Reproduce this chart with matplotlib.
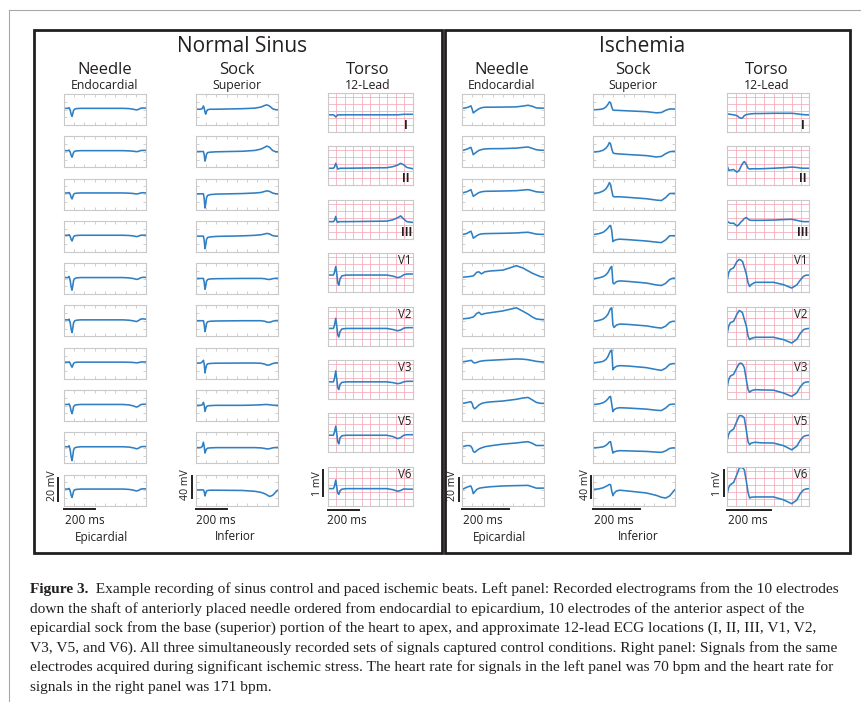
import numpy as np
import matplotlib
matplotlib.use("Agg")
import matplotlib.pyplot as plt
from matplotlib.patches import Rectangle
from matplotlib.lines import Line2D
from matplotlib.transforms import blended_transform_factory

plt.rcParams['font.family'] = ['Open Sans', 'DejaVu Sans']

W, H = 862, 702
TRACE = '#2f7fc2'
FRAME = '#c9c9c9'
GRID = '#f3a9b6'
INK = '#231f20'

# time grids in ms, amplitudes in mV
# ---- normal sinus ----
NORM_NEEDLE_T = [0, 28, 33, 40, 46, 52, 57, 62, 68, 80, 110, 380, 420, 450, 468, 482, 495, 510, 530]
NORM_NEEDLE = [
    [0, 0, 0.6, -1.5, -5, -7, -4.5, -1.8, -0.7, -0.2, 0, 0, -0.2, -0.8, -1.4, -0.9, 0.1, 0.3, 0.2],
    [0, 0, 0.5, -1.2, -4, -5.7, -3.6, -1.5, -0.6, -0.2, 0, 0, -0.2, -0.5, -0.9, -0.6, 0.1, 0.2, 0.2],
    [0, 0, 0.4, -1.1, -3.7, -5.2, -3.3, -1.3, -0.5, -0.2, 0, 0, -0.2, -0.5, -0.9, -0.6, 0.0, 0.2, 0.1],
    [0, 0, 0.5, -1.0, -3.5, -5.0, -3.2, -1.3, -0.5, -0.2, 0, 0, -0.2, -0.6, -1.2, -0.8, 0.0, 0.1, 0.1],
    [0, 0, 0.9, -2.5, -8, -11, -7, -2.5, -1.0, -0.3, 0, 0, -0.3, -0.9, -1.6, -1.2, -0.2, 0.2, 0.2],
    [0, 0, 0.6, -2.5, -8, -11, -7, -2.5, -1.0, -0.3, 0, 0, -0.3, -0.9, -1.5, -0.6, 0.6, 0.9, 0.5],
    [0, 0, 0.3, -1.0, -3.0, -4.4, -2.8, -1.1, -0.4, -0.1, 0, 0, -0.1, -0.3, -0.6, -0.4, 0.1, 0.2, 0.2],
    [0, 0, 0.5, -1.8, -5.8, -8, -5.2, -1.9, -0.8, -0.3, 0, 0, -0.4, -1.3, -2.3, -1.6, -0.2, 0.2, 0.2],
    [0, 0, 0.9, -2.7, -8.7, -12, -7.7, -2.7, -1.1, -0.4, 0, 0, -0.3, -1.0, -1.8, -1.3, -0.1, 0.2, 0.2],
    [0, 0, 0.6, -1.6, -5.3, -7.3, -4.7, -1.8, -0.7, -0.3, 0, 0, -0.3, -1.0, -1.7, -1.2, -0.1, 0.2, 0.2],
]
NORM_SOCK_T = [0, 30, 40, 48, 53, 58, 63, 68, 75, 90, 130, 300, 380, 420, 445, 458, 475, 495, 515, 530]
NORM_SOCK = [
    [0, 0, 1, 6, 2, -5, -9, -4, -1, 0, 0, 1, 2, 4, 7, 8, 6, 1, -1, -1],
    [0, 0, 0, 0, -6, -17.6, -12, -5, -2, -1.2, -0.5, 0.5, 2, 4.5, 8, 10, 8, 2, -0.5, -0.5],
    [0, 0, 0, 0, -9, -26, -18, -7, -3, -1.5, -0.5, 0.5, 1.5, 2.5, 4.5, 5.5, 4.5, 1.5, 0, 0],
    [0, 0, 0, 0, -8, -23, -16, -6, -2.5, -1.5, -0.5, 0.5, 1.5, 2.5, 4, 5, 4, 1, 0, 0],
    [0, 0, 0, 0, -7, -20, -14, -5, -2, -1, -0.5, 0, 0, 0, -0.5, -1.5, -2, -0.5, 0.3, 0.3],
    [0, 0, 0, 0, -7, -20, -14, -5, -2, -1, -0.5, 0, 0, 0, -1, -2.5, -3, -1, 0.3, 0.3],
    [0, 0, 2, 5, -2, -18, -10, -4, -1.5, -0.8, -0.3, 0, 0, -0.5, -2, -4, -3.5, -1, 0.3, 0.3],
    [0, 0, 1, 5.5, 0, -11, -6, -2.5, -1, -0.5, 0, 0, 0.5, 1, 1.5, 1.5, 1, 0.3, 0, 0],
    [0, 0, 2, 10, 2, -10, -6, -2.5, -1, -0.5, 0, 0, 0, -0.5, -1.5, -2.5, -2, -0.5, 0.3, 0.3],
    [0, 0, 0, 0, -3, -11, -6, -2, -1, -0.5, -0.5, -1, -2.5, -4.5, -7, -9, -12, -10, -4, 0],
]
NORM_TORSO_T = [0, 35, 42, 50, 57, 63, 70, 78, 90, 120, 380, 420, 450, 470, 490, 510, 550]
NORM_TORSO = [
    [0, 0, -0.03, -0.08, -0.04, 0, 0, 0, 0, 0, 0, 0, 0, 0.01, 0.02, 0.02, 0.02],
    [0, 0, 0.05, 0.19, 0.08, -0.03, -0.02, 0, 0, 0, 0.02, 0.06, 0.12, 0.19, 0.13, 0.03, -0.02],
    [0, 0, 0.05, 0.2, 0.02, -0.03, 0, 0, 0, 0, 0.02, 0.07, 0.15, 0.22, 0.1, 0.0, -0.03],
    [0, 0, 0.1, 0.33, 0.05, -0.3, -0.39, -0.15, -0.03, 0, 0, -0.04, -0.1, -0.07, 0.01, 0.04, 0.04],
    [0, 0, 0.12, 0.39, 0.08, -0.25, -0.33, -0.12, -0.02, 0, 0, -0.04, -0.09, -0.06, 0.01, 0.03, 0.03],
    [0, 0, 0.13, 0.42, 0.1, -0.22, -0.3, -0.1, -0.02, 0, 0, -0.03, -0.07, -0.05, 0.0, 0.02, 0.02],
    [0, 0, 0.12, 0.35, 0.05, -0.25, -0.33, -0.1, -0.02, 0, 0, -0.05, -0.13, -0.09, 0.0, 0.02, 0.02],
    [0, 0, 0.1, 0.33, 0.05, -0.17, -0.22, -0.08, -0.02, 0, 0, -0.04, -0.1, -0.07, -0.01, -0.02, -0.02],
]

# ---- ischemia ----
ISCH_NEEDLE_T = [0, 20, 33, 38, 44, 48, 54, 62, 72, 83, 97, 120, 175, 232, 260, 282, 300, 317, 335, 350]
ISCH_NEEDLE = [
    [-0.1, 0.6, 1.6, 2.2, -1, -4, -3, -1.8, -0.4, 0.5, 1.0, 1.0, 1.1, 1.3, 2.0, 2.7, 1.8, 0.4, 0.2, 0.15],
    [0, 1.2, 2.4, 2.9, -0.5, -3.5, -2.5, -1.2, 0.2, 0.9, 1.5, 1.7, 1.8, 2.2, 2.8, 3.2, 2.0, 0.8, 0.4, 0.3],
    [0, 1.0, 2.3, 2.9, -0.5, -2.9, -2.2, -1.0, 0.3, 1.0, 1.4, 1.5, 1.7, 2.0, 2.5, 2.9, 2.0, 1.0, 0.7, 0.6],
    [0.5, 1.5, 3.0, 3.5, 0.5, -2.5, -1.8, -0.5, 0.6, 1.2, 1.4, 1.5, 1.7, 2.0, 2.4, 2.6, 1.8, 1.0, 0.8, 0.8],
    [0.3, 0.6, 0.9, 1.1, 1.3, 1.5, 2.5, 4.5, 5.0, 3.2, 5.0, 5.7, 6.5, 10.3, 8.3, 5.8, 3.8, 2.3, 0.8, 0.3],
    [0.8, 1.2, 1.6, 2.0, 2.2, 2.5, 3.5, 5.5, 6.6, 4.6, 5.5, 6.2, 7.8, 10.5, 7.5, 5.0, 2.5, 0.8, 0.3, 0.2],
    [0.2, 0.8, 1.3, 1.6, 0.8, -0.3, -0.7, -0.3, 0.5, 1.0, 1.35, 1.6, 2.2, 2.8, 2.6, 2.1, 1.4, 0.7, 0.3, 0.2],
    [0.8, 1.6, 2.2, 2.4, 0.5, -2.5, -3.8, -2.5, -0.5, 0.8, 1.6, 2.2, 3.0, 4.5, 5.6, 6.1, 4.0, 1.8, 1.0, 0.9],
    [-0.1, 1.0, 1.0, 0.3, -1.5, -4, -4.9, -3.5, -2.0, -1.0, 0.0, 0.8, 2.3, 3.3, 4.0, 4.4, 3.0, 1.1, 1.1, 1.1],
    [-0.4, 1.5, 2.5, 2.6, -0.5, -4.0, -2.5, -0.5, 0.6, 1.1, 1.5, 2.0, 2.7, 3.0, 3.1, 3.2, 2.0, 0.8, 0.8, 0.8],
]
ISCH_SOCK_T = [0, 25, 43, 55, 64, 70, 75, 80, 85, 90, 100, 114, 150, 228, 270, 292, 310, 327, 340, 350]
ISCH_SOCK = [
    [-1.1, -0.5, 0.7, 4, 9, 13.5, 12, 4, -1.5, -2.0, -2.0, -2.3, -3, -4.5, -6.6, -6.0, -2.0, 0.5, 0.5, 0.3],
    [-0.8, 0, 2.3, 6, 11, 16.5, 14, 5, -2, -3.5, -4, -4.5, -5.5, -7.5, -10, -9, -4, -0.5, 0.4, 0.4],
    [0.8, 2.0, 5.1, 9, 15, 20.6, 17, 6, -4, -5.5, -5.5, -5.4, -6.5, -9, -11.5, -12.3, -7, 0.5, 0.8, 0.8],
    [2.7, 4.5, 7.0, 11, 15, 18.5, 19.7, 10, -10, -8, -6.5, -5.6, -6.5, -9, -11, -11.9, -7, 0.5, 0.8, 0.8],
    [-0.8, 1.0, 3.2, 6.5, 11, 16, 20, 21.9, -8, -10, -6, -4.5, -5.5, -8.5, -12, -13, -9, -2, 0.3, 0.4],
    [-1.1, 0.5, 3.0, 7, 12, 18, 22.5, 23.7, -8, -12.3, -8, -6.1, -6.8, -9.5, -12.5, -13.5, -10, -3, -1.1, -1.1],
    [0.1, 1.5, 3.0, 6.5, 12, 18, 22.5, 23.7, -12.3, -9, -6, -4.8, -5.5, -8.5, -12, -13.5, -9.5, -2.5, -1.1, -1.1],
    [1.5, 2.5, 4.7, 8, 12, 15.5, 16.4, 2, -11.5, -8, -5.5, -4.4, -5, -7, -9, -9.6, -5, 1.5, 2.1, 2.1],
    [-0.5, 0.3, 1.4, 4, 7.5, 10.5, 10.9, 0, -10, -8, -6.5, -5.6, -6, -7, -8.2, -8.7, -6, -1.5, -0.5, -0.5],
    [0.75, 2.0, 3.9, 6.5, 8.5, 10.2, 9.5, -2, -10.6, -6, -2, -0.5, -2, -5.6, -10, -13.5, -15, -11, -4.5, 0.75],
]
ISCH_TORSO_T = [0, 8, 15, 30, 45, 55, 62, 70, 78, 87, 95, 102, 110, 127, 150, 210, 255, 292, 315, 330, 345, 355, 370]
ISCH_TORSO = [
    [0.04, 0.03, 0.02, 0.0, -0.03, -0.1, -0.13, -0.12, -0.03, 0.01, 0.02, 0.03, 0.04, 0.05, 0.05, 0.06, 0.06, 0.06, 0.04, 0.02, 0.01, 0.0, 0.0],
    [0.11, -0.08, -0.07, -0.05, -0.15, -0.08, 0.05, 0.18, 0.26, 0.15, 0.0, -0.03, -0.02, -0.02, -0.02, 0.0, 0.02, 0.044, 0.03, 0.01, 0.0, 0.0, 0.0],
    [0.03, -0.03, -0.06, -0.06, -0.17, -0.1, -0.02, 0.04, 0.12, 0.16, 0.1, 0.06, 0.05, 0.05, 0.05, 0.06, 0.08, 0.09, 0.05, 0.02, 0.0, 0.0, 0.0],
    [-0.24, 0.1, 0.21, 0.28, 0.52, 0.6, 0.58, 0.52, 0.3, 0.05, -0.3, -0.44, -0.36, -0.28, -0.28, -0.28, -0.37, -0.5, -0.38, -0.2, -0.05, -0.01, 0.0],
    [-0.23, 0.1, 0.22, 0.28, 0.55, 0.69, 0.66, 0.6, 0.35, 0.1, -0.3, -0.43, -0.38, -0.34, -0.34, -0.34, -0.43, -0.56, -0.42, -0.2, -0.05, -0.015, 0.0],
    [-0.23, 0.1, 0.22, 0.29, 0.55, 0.7, 0.72, 0.68, 0.55, 0.09, -0.3, -0.4, -0.34, -0.3, -0.31, -0.32, -0.43, -0.56, -0.42, -0.2, -0.05, -0.01, 0.0],
    [-0.23, 0.05, 0.15, 0.24, 0.55, 0.74, 0.76, 0.73, 0.67, 0.2, -0.25, -0.36, -0.3, -0.27, -0.29, -0.3, -0.4, -0.56, -0.42, -0.2, -0.05, -0.015, 0.0],
    [-0.23, 0.05, 0.15, 0.24, 0.55, 0.78, 0.82, 0.8, 0.73, 0.3, -0.15, -0.36, -0.33, -0.32, -0.32, -0.32, -0.43, -0.58, -0.44, -0.2, -0.05, -0.015, 0.0],
]
TORSO_LEADS = ["I", "II", "III", "V1", "V2", "V3", "V5", "V6"]

CAPTION_BOLD = "Figure 3."
CAPTION = [
    "  Example recording of sinus control and paced ischemic beats. Left panel: Recorded electrograms from the 10 electrodes",
    "down the shaft of anteriorly placed needle ordered from endocardial to epicardium, 10 electrodes of the anterior aspect of the",
    "epicardial sock from the base (superior) portion of the heart to apex, and approximate 12-lead ECG locations (I, II, III, V1, V2,",
    "V3, V5, and V6). All three simultaneously recorded sets of signals captured control conditions. Right panel: Signals from the same",
    "electrodes acquired during significant ischemic stress. The heart rate for signals in the left panel was 70 bpm and the heart rate for",
    "signals in the right panel was 171 bpm.",
]

NEEDLE_YLIM = (-14.5, 12.5)
SOCK_YLIM = (-29, 28)
TORSO_YLIM = (-0.66, 0.84)

fig = plt.figure(figsize=(W / 100, H / 100), dpi=100)


def ftext(x, y, s, **kw):
    return fig.text(x / W, 1 - y / H, s, **kw)


def px_axes(x, y, w, h):
    return fig.add_axes([x / W, 1 - (y + h) / H, w / W, h / H])


def trace_box(x, y, w, h, t, v, span, ylim, torso=False, grid_step=55):
    ax = px_axes(x, y, w, h)
    ax.plot(t, v, color=TRACE, lw=1.15, solid_joinstyle='round', solid_capstyle='round')
    ax.set_xlim(0, span)
    ax.set_ylim(*ylim)
    for s in ax.spines.values():
        s.set_color(FRAME)
        s.set_linewidth(0.8)
    if torso:
        ax.set_xticks(np.arange(grid_step, span, grid_step))
        ax.set_yticks(np.arange(ylim[0] + 0.27, ylim[1], 0.27))
        ax.grid(True, color=GRID, lw=0.55)
        ax.set_axisbelow(True)
        ax.tick_params(length=0, labelbottom=False, labelleft=False)
    else:
        ax.set_xticks(np.linspace(0, span, 9)[1:-1])
        ax.set_yticks(np.linspace(ylim[0], ylim[1], 5)[1:-1])
        ax.tick_params(direction='in', length=2, width=0.6, color=FRAME,
                       top=True, right=True, labelbottom=False, labelleft=False)
    return ax


def scale_bars(ax, v0, v1, xoff, label_x, label_y, label, ms_x):
    # 200 ms and voltage bars drawn in the bottom box's own units
    tr = blended_transform_factory(ax.transData, ax.transAxes)
    ax.plot([0, 200], [-0.12, -0.12], transform=tr, color=INK, lw=1.4, clip_on=False)
    tr = blended_transform_factory(ax.transAxes, ax.transData)
    ax.plot([xoff, xoff], [v0, v1], transform=tr, color=INK, lw=1.4, clip_on=False)
    ftext(label_x, label_y, label, rotation=90, ha='center', va='center', fontsize=7.6, color=INK)
    ftext(ms_x, 521, "200 ms", ha='left', va='center', fontsize=8.4, color=INK)


panels = [
    dict(title="Normal Sinus", box=(34, 30, 408, 523), title_x=242,
         xs=(64, 196, 328), ws=(82, 82, 85), head_x=(105, 237, 368),
         spans=(530, 530, 550), grid_step=55, bar_off=(-0.073, -0.049, -0.059),
         data=((NORM_NEEDLE_T, NORM_NEEDLE), (NORM_SOCK_T, NORM_SOCK), (NORM_TORSO_T, NORM_TORSO)),
         mv_x=(52.5, 185.5, 318), ms_x=(65, 196, 327), foot_x=(102, 235.5)),
    dict(title="Ischemia", box=(445, 30, 405, 523), title_x=642,
         xs=(462, 593, 727), ws=(82, 82, 82), head_x=(502, 633, 767),
         spans=(350, 350, 370), grid_step=42, bar_off=(-0.033, -0.028, -0.037),
         data=((ISCH_NEEDLE_T, ISCH_NEEDLE), (ISCH_SOCK_T, ISCH_SOCK), (ISCH_TORSO_T, ISCH_TORSO)),
         mv_x=(452.5, 585.5, 718), ms_x=(463, 594, 728), foot_x=(500, 638)),
]

for p in panels:
    bx, by, bw, bh = p['box']
    fig.add_artist(Rectangle((bx / W, 1 - (by + bh) / H), bw / W, bh / H,
                             transform=fig.transFigure, fill=False, lw=2.0, ec=INK))
    ftext(p['title_x'], 52, p['title'], ha='center', va='baseline', fontsize=15, color=INK)
    for hx, head, sub in zip(p['head_x'], ["Needle", "Sock", "Torso"],
                             ["Endocardial", "Superior", "12-Lead"]):
        ftext(hx, 74, head, ha='center', va='baseline', fontsize=12, color=INK)
        ftext(hx, 89, sub, ha='center', va='baseline', fontsize=8.8, color=INK)

    # needle and sock columns: 10 electrodes each
    for col, ylim in zip(range(2), (NEEDLE_YLIM, SOCK_YLIM)):
        t, rows = p['data'][col]
        for i, v in enumerate(rows):
            ax = trace_box(p['xs'][col], 94 + i * 42.3, p['ws'][col], 31, t, v,
                           p['spans'][col], ylim)
        if col == 0:
            scale_bars(ax, -10, 10, p['bar_off'][0], p['mv_x'][0], 486, "20 mV", p['ms_x'][0])
        else:
            scale_bars(ax, -15, 25, p['bar_off'][1], p['mv_x'][1], 485, "40 mV", p['ms_x'][1])

    # torso leads
    t, rows = p['data'][2]
    for i, (v, lead) in enumerate(zip(rows, TORSO_LEADS)):
        ax = trace_box(p['xs'][2], 93 + i * 53.4, p['ws'][2], 39, t, v,
                       p['spans'][2], TORSO_YLIM, torso=True, grid_step=p['grid_step'])
        if lead.startswith("V"):
            ax.text(0.9, 0.8, lead, transform=ax.transAxes, ha='center', va='center',
                    fontsize=8.3, color=INK)
        else:
            ax.text(0.92, 0.17, lead, transform=ax.transAxes, ha='center', va='center',
                    fontsize=8.3, color=INK, fontweight='bold')
    scale_bars(ax, -0.3, 0.7, p['bar_off'][2], p['mv_x'][2], 484, "1 mV", p['ms_x'][2])

    ftext(p['foot_x'][0], 538, "Epicardial", ha='center', va='center', fontsize=8.5, color=INK)
    ftext(p['foot_x'][1], 537, "Inferior", ha='center', va='center', fontsize=8.5, color=INK)

# page margin lines
fig.add_artist(Line2D([9 / W, 1], [1 - 10 / H, 1 - 10 / H], transform=fig.transFigure,
                      color='#a8a8a8', lw=0.8))
fig.add_artist(Line2D([9 / W, 9 / W], [0, 1 - 10 / H], transform=fig.transFigure,
                      color='#a8a8a8', lw=0.8))

# caption
cap_kw = dict(fontsize=11.1, color=INK, family=['Liberation Serif', 'DejaVu Serif'],
              va='baseline', ha='left')
bold = ftext(30, 593, CAPTION_BOLD, fontweight='bold', **cap_kw)
fig.canvas.draw()
bold_end = bold.get_window_extent().x1
ftext(bold_end, 593, CAPTION[0], **cap_kw)
for i, line in enumerate(CAPTION[1:]):
    ftext(30, 593 + (i + 1) * 19.6, line, **cap_kw)

fig.savefig("out.png", dpi=100)
